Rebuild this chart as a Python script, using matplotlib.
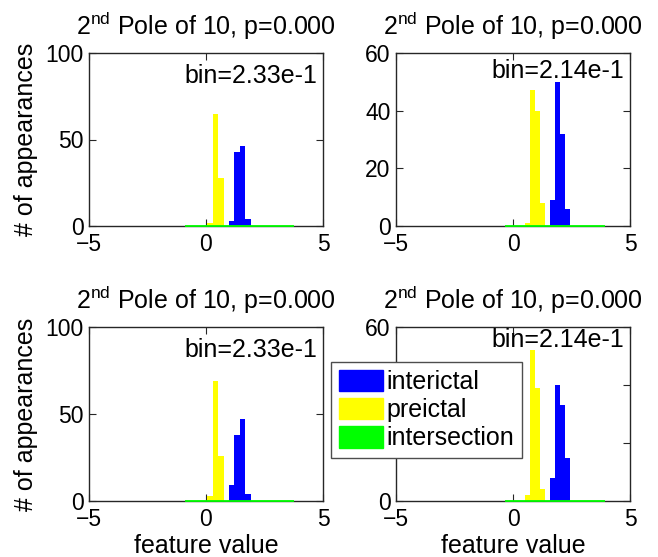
import matplotlib
matplotlib.use("Agg")
import matplotlib.pyplot as plt
from matplotlib.patches import Patch
import numpy as np

plt.rcParams['font.family'] = ['Liberation Sans', 'DejaVu Sans']
plt.rcParams['mathtext.fontset'] = 'custom'
plt.rcParams['mathtext.rm'] = 'Liberation Sans'
plt.rcParams['mathtext.it'] = 'Liberation Sans:italic'
plt.rcParams['mathtext.bf'] = 'Liberation Sans:bold'

# ---- data -------------------------------------------------------------
panel_title = "2$^{\\mathrm{nd}}$ Pole of 10, p=0.000"
bin_starts = [-0.88, -0.34, -0.88, -0.34]
bin_widths = [0.233, 0.214, 0.233, 0.214]
bin_labels = ["bin=2.33e-1", "bin=2.14e-1", "bin=2.33e-1", "bin=2.14e-1"]
y_max = [100, 60, 100, 60]
y_ticks = [[0, 50, 100], [0, 20, 40, 60], [0, 50, 100], [0, 20, 40, 60]]
x_ticks = [-5, 0, 5]

interictal_counts = [
    [0, 0, 0, 0, 0, 0, 0, 0, 3, 43, 46, 4, 0, 0, 0, 0, 0, 0, 0, 0],
    [0, 0, 0, 0, 0, 0, 0, 0, 0, 9, 50, 32, 6, 0, 0, 0, 0, 0, 0, 0],
    [0, 0, 0, 0, 0, 0, 0, 0, 9, 38, 47, 4, 0, 0, 0, 0, 0, 0, 0, 0],
    [0, 0, 0, 0, 0, 0, 0, 0, 0, 8, 40, 33, 15, 0, 0, 0, 0, 0, 0, 0],
]
preictal_counts = [
    [0, 0, 0, 0, 2, 65, 28, 0, 0, 0, 0, 0, 0, 0, 0, 0, 0, 0, 0, 0],
    [0, 0, 0, 0, 1, 47, 40, 8, 0, 0, 0, 0, 0, 0, 0, 0, 0, 0, 0, 0],
    [0, 0, 0, 0, 3, 69, 26, 0, 0, 0, 0, 0, 0, 0, 0, 0, 0, 0, 0, 0],
    [0, 0, 0, 0, 2, 52, 39, 4, 0, 0, 0, 0, 0, 0, 0, 0, 0, 0, 0, 0],
]
intersection_counts = [
    [0] * 20,
    [0] * 20,
    [0] * 20,
    [0] * 20,
]
series_names = ["interictal", "preictal", "intersection"]

# ---- style -------------------------------------------------------------
BLUE = (0, 0, 1)
YELLOW = (1, 1, 0)
GREEN = (0, 1, 0)
AXIS_COL = (0.15, 0.15, 0.15)
label_y = [0.827, 0.854, 0.828, 0.885]
FS_TEXT = 18
FS_TICK = 16.5

W, H = 658, 557
fig = plt.figure(figsize=(W / 100, H / 100), dpi=100)

# axes boxes in pixels: left, right, top, bottom
boxes = [(89, 323, 53, 226), (396, 630, 53, 226),
         (89, 323, 327, 501), (396, 630, 327, 501)]

axes = []
for i, (l, r, t, b) in enumerate(boxes):
    ax = fig.add_axes([l / W, 1 - b / H, (r - l) / W, (b - t) / H])
    axes.append(ax)
    edges = bin_starts[i] + bin_widths[i] * np.arange(len(interictal_counts[i]))
    ax.bar(edges, interictal_counts[i], width=bin_widths[i], align='edge',
           color=BLUE, linewidth=0, zorder=2)
    ax.bar(edges, preictal_counts[i], width=bin_widths[i], align='edge',
           color=YELLOW, linewidth=0, zorder=2)
    ax.bar(edges, intersection_counts[i], width=bin_widths[i], align='edge',
           color=GREEN, edgecolor=GREEN, linewidth=1.3, zorder=4, clip_on=False)

    ax.set_xlim(-5, 5)
    ax.set_ylim(0, y_max[i])
    ax.set_xticks(x_ticks)
    ax.set_yticks(y_ticks[i])
    ax.tick_params(direction='in', top=True, right=True, length=5, width=0.8,
                   color=AXIS_COL, labelsize=FS_TICK)
    ax.tick_params(axis='x', pad=5)
    ax.tick_params(axis='y', pad=4)
    for s in ax.spines.values():
        s.set_color(AXIS_COL)
        s.set_linewidth(1.0)
    ax.set_title(panel_title, fontsize=FS_TEXT, pad=13)
    ax.text(0.974, label_y[i], bin_labels[i], transform=ax.transAxes,
            ha='right', va='baseline', fontsize=FS_TEXT)
    if i % 2 == 0:
        ax.set_ylabel("# of appearances", fontsize=FS_TEXT, labelpad=5)
    if i >= 2:
        ax.set_xlabel("feature value", fontsize=FS_TEXT, labelpad=2)

handles = [Patch(facecolor=BLUE, edgecolor=BLUE),
           Patch(facecolor=YELLOW, edgecolor=YELLOW),
           Patch(facecolor=GREEN, edgecolor=GREEN)]
leg = fig.legend(handles, series_names, loc='upper left',
                 bbox_to_anchor=(331 / W, 1 - 362 / H), fontsize=FS_TEXT,
                 handlelength=1.76, handleheight=0.96, handletextpad=0.16,
                 labelspacing=0.15, borderpad=0.3, borderaxespad=0,
                 fancybox=False, framealpha=1, edgecolor=(0.3, 0.3, 0.3))
leg.get_frame().set_linewidth(1.0)

fig.savefig("out.png", dpi=100)
